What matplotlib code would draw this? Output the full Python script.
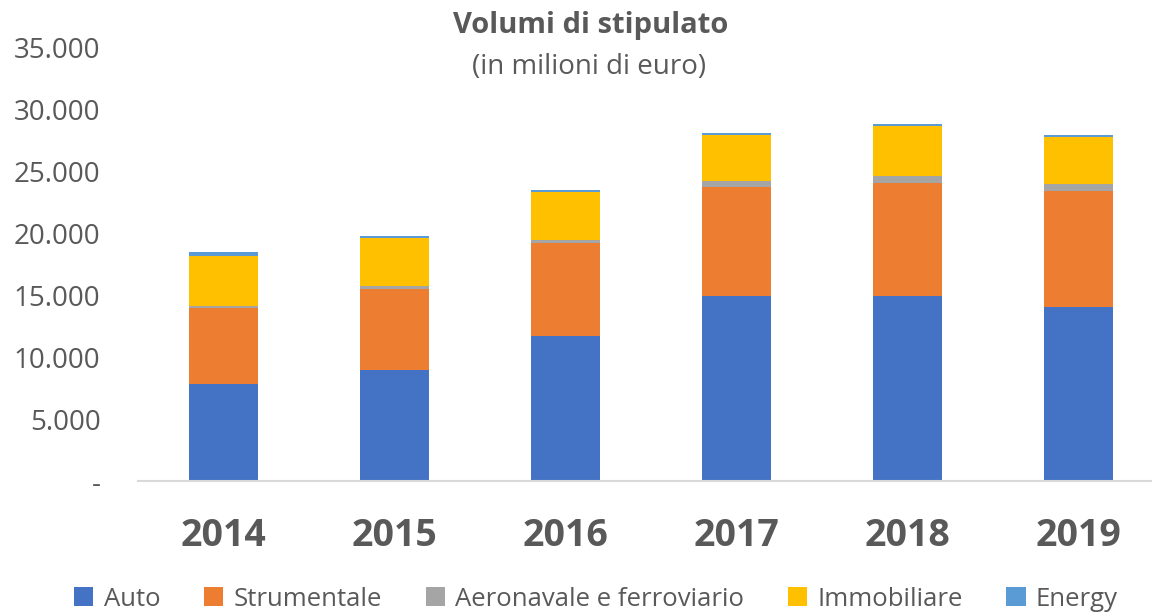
import matplotlib
matplotlib.use("Agg")
import matplotlib.pyplot as plt
import numpy as np

years = ["2014", "2015", "2016", "2017", "2018", "2019"]
auto = [7840, 8970, 11710, 14970, 14970, 14080]
strumentale = [6130, 6510, 7490, 8780, 9100, 9340]
aeronavale = [170, 270, 320, 480, 590, 590]
immobiliare = [4030, 3880, 3850, 3740, 4040, 3800]
energy = [330, 160, 140, 140, 140, 140]

series_names = ["Auto", "Strumentale", "Aeronavale e ferroviario", "Immobiliare", "Energy"]
colors = ["#4472C4", "#ED7D31", "#A5A5A5", "#FFC000", "#5B9BD5"]
yticks = [0, 5000, 10000, 15000, 20000, 25000, 30000, 35000]
ytick_labels = ["-", "5.000", "10.000", "15.000", "20.000", "25.000", "30.000", "35.000"]

plt.rcParams['font.family'] = ['Open Sans', 'DejaVu Sans']
txt = "#595959"

fig = plt.figure(figsize=(11.52, 6.16), dpi=100)
ax = fig.add_axes([138/1152, 1-481/616, 1-138/1152, (481-48)/616])

x = np.arange(len(years))
bottom = np.zeros(len(years))
handles = []
for name, vals, c in zip(series_names, [auto, strumentale, aeronavale, immobiliare, energy], colors):
    h = ax.bar(x, vals, width=0.40, bottom=bottom, color=c, label=name, zorder=2)
    handles.append(h)
    bottom += np.array(vals)

ax.set_xlim(-0.5, (1152-223.5)/171)
ax.set_ylim(0, 35000)
ax.set_yticks(yticks)
ax.set_yticklabels(ytick_labels, fontsize=20, color=txt)
ax.set_xticks(x)
ax.set_xticklabels(years, fontsize=27, fontweight='bold', color=txt)
ax.tick_params(axis='y', length=0, pad=27)
ax.tick_params(axis='x', length=0, pad=26)
for s in ['top', 'right', 'left']:
    ax.spines[s].set_visible(False)
ax.spines['bottom'].set_color('#D9D9D9')
ax.spines['bottom'].set_linewidth(1.5)

fig.text(591/1152, 1-26/616, "Volumi di stipulato", ha='center', va='center',
         fontsize=21, fontweight='bold', color=txt)
fig.text(589/1152, 1-67/616, "(in milioni di euro)", ha='center', va='center',
         fontsize=20, color=txt)

leg = fig.legend(handles=handles, labels=series_names, loc='center',
                 bbox_to_anchor=(596/1152, 1-599/616), ncol=5, frameon=False,
                 fontsize=18.5, handlelength=0.75, handleheight=0.75,
                 handletextpad=0.4, columnspacing=1.7, labelcolor=txt,
                 borderpad=0.1)

fig.savefig("out.png", dpi=100)
